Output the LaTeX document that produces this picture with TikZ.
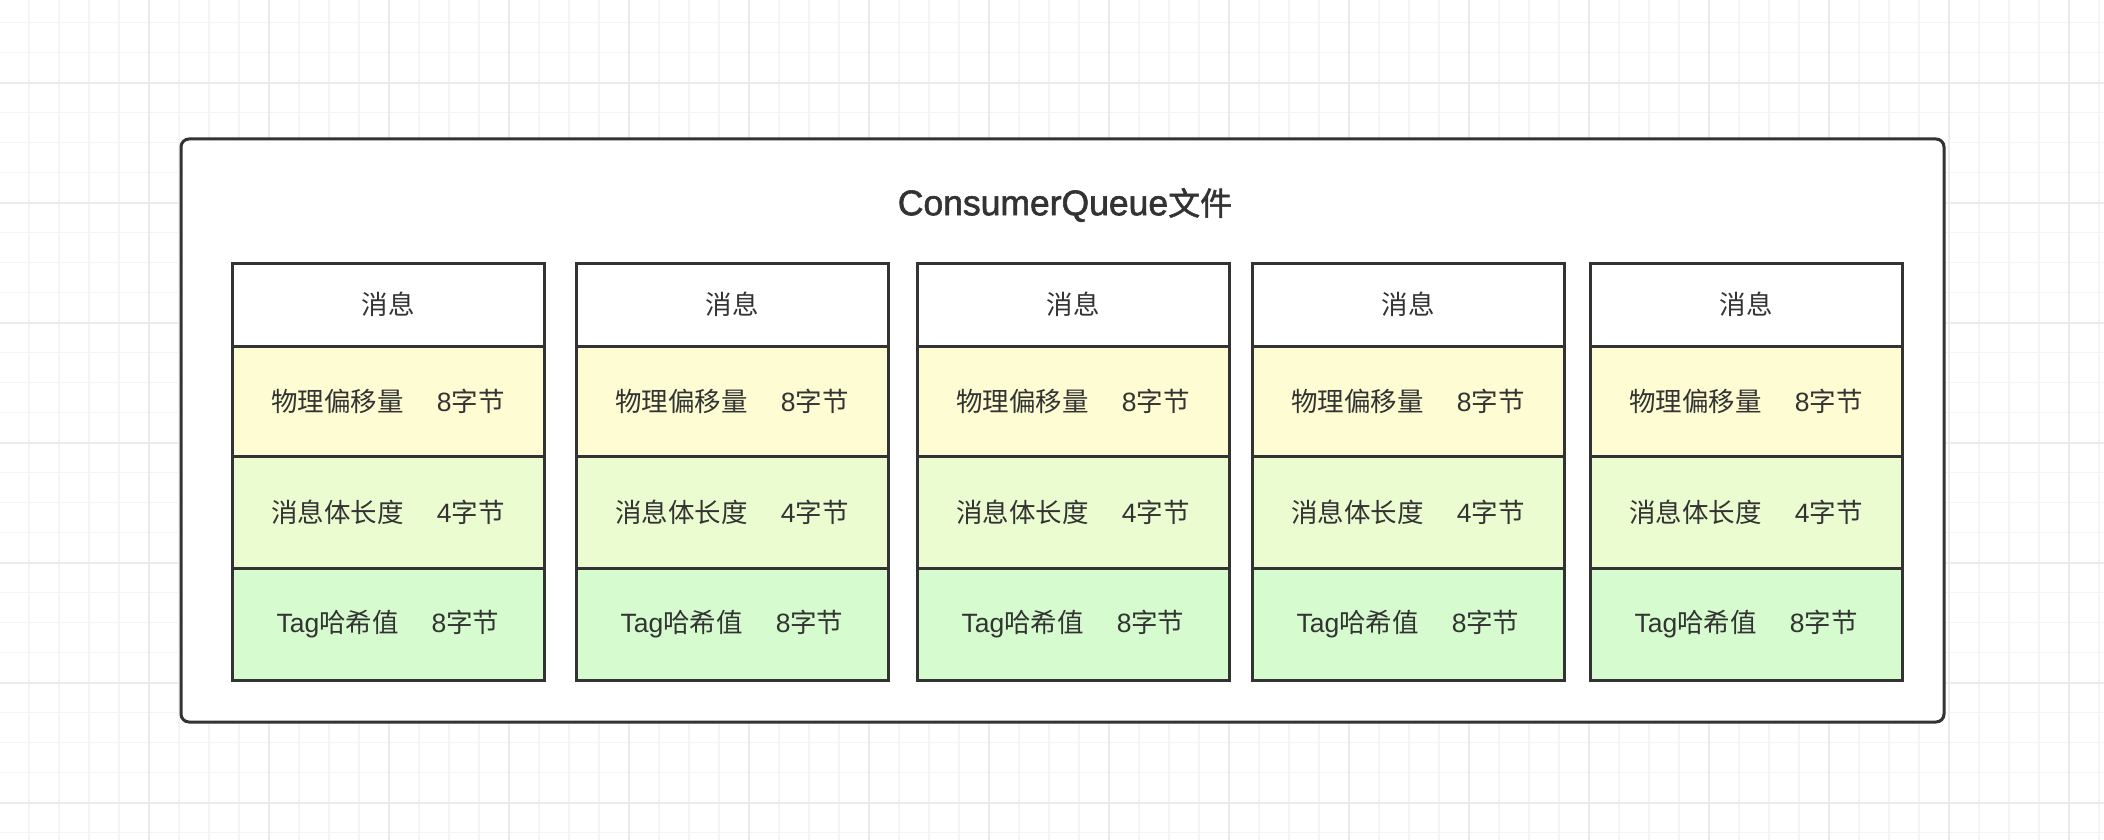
\documentclass[tikz,border=0pt]{standalone}
\usepackage{fontspec}
\setmainfont{Liberation Sans}
\newfontfamily\cjk{Noto Sans CJK SC}
\newfontfamily\titlelatin[FakeBold=1.6]{Liberation Sans}
\newfontfamily\titlecjk[FakeBold=1.6]{Noto Sans CJK SC}
\definecolor{ink}{HTML}{333333}
\definecolor{gridminor}{HTML}{F4F4F4}
\definecolor{gridmajor}{HTML}{EBEBEB}
\definecolor{rowA}{HTML}{FEFCD2}
\definecolor{rowB}{HTML}{EBFCD1}
\definecolor{rowC}{HTML}{D6FBCF}
\tikzset{
  gminor/.style={draw=gridminor, line width=1.3pt},
  gmajor/.style={draw=gridmajor, line width=1.8pt},
  filebox/.style={draw=ink, fill=white, line width=3pt, rounded corners=8pt, inner sep=0pt, outer sep=0pt},
  cellbox/.style={draw=ink, line width=3pt, minimum width=312pt, inner sep=0pt, outer sep=0pt, anchor=north west, text=ink, font=\fontsize{26.5}{30}\selectfont},
  headcell/.style={cellbox, fill=white, minimum height=83pt},
  cellA/.style={cellbox, fill=rowA, minimum height=110pt},
  cellB/.style={cellbox, fill=rowB, minimum height=112pt},
  cellC/.style={cellbox, fill=rowC, minimum height=112pt},
  titletext/.style={text=ink, inner sep=0pt},
}
\newcommand{\gapsp}{\hspace{33pt}}
\begin{document}
\begin{tikzpicture}[x=1pt, y=-1pt]
\useasboundingbox (0,0) rectangle (2104,840);
\fill[white] (0,0) rectangle (2104,840);
% background grid
\foreach \k in {0,...,69} \draw[gminor] ({29+30*\k},0) -- ({29+30*\k},840);
\foreach \k in {0,...,27} \draw[gminor] (0,{22.7+30*\k}) -- (2104,{22.7+30*\k});
\foreach \k in {0,...,16} \draw[gmajor] ({149+120*\k},0) -- ({149+120*\k},840);
\foreach \k in {0,...,6} \draw[gmajor] (0,{82.7+120*\k}) -- (2104,{82.7+120*\k});
% outer file box
\node[filebox, minimum width=1763pt, minimum height=583pt, anchor=north west] (file) at (181,139) {};
\node[titletext] (title) at (1065,205) {{\titlelatin\fontsize{35.5}{40}\selectfont ConsumerQueue}{\titlecjk\fontsize{32}{40}\selectfont 文件}};
% columns
\foreach \i/\x in {1/232, 2/576, 3/917, 4/1252, 5/1590} {
  \node[headcell] (h\i) at (\x,263) {\cjk 消息};
  \node[cellA] (a\i) at (h\i.south west) {{\cjk 物理偏移量}\gapsp 8{\cjk 字节}};
  \node[cellB] (b\i) at (a\i.south west) {{\cjk 消息体长度}\gapsp 4{\cjk 字节}};
  \node[cellC] (c\i) at (b\i.south west) {Tag{\cjk 哈希值}\gapsp 8{\cjk 字节}};
}
\end{tikzpicture}
\end{document}
